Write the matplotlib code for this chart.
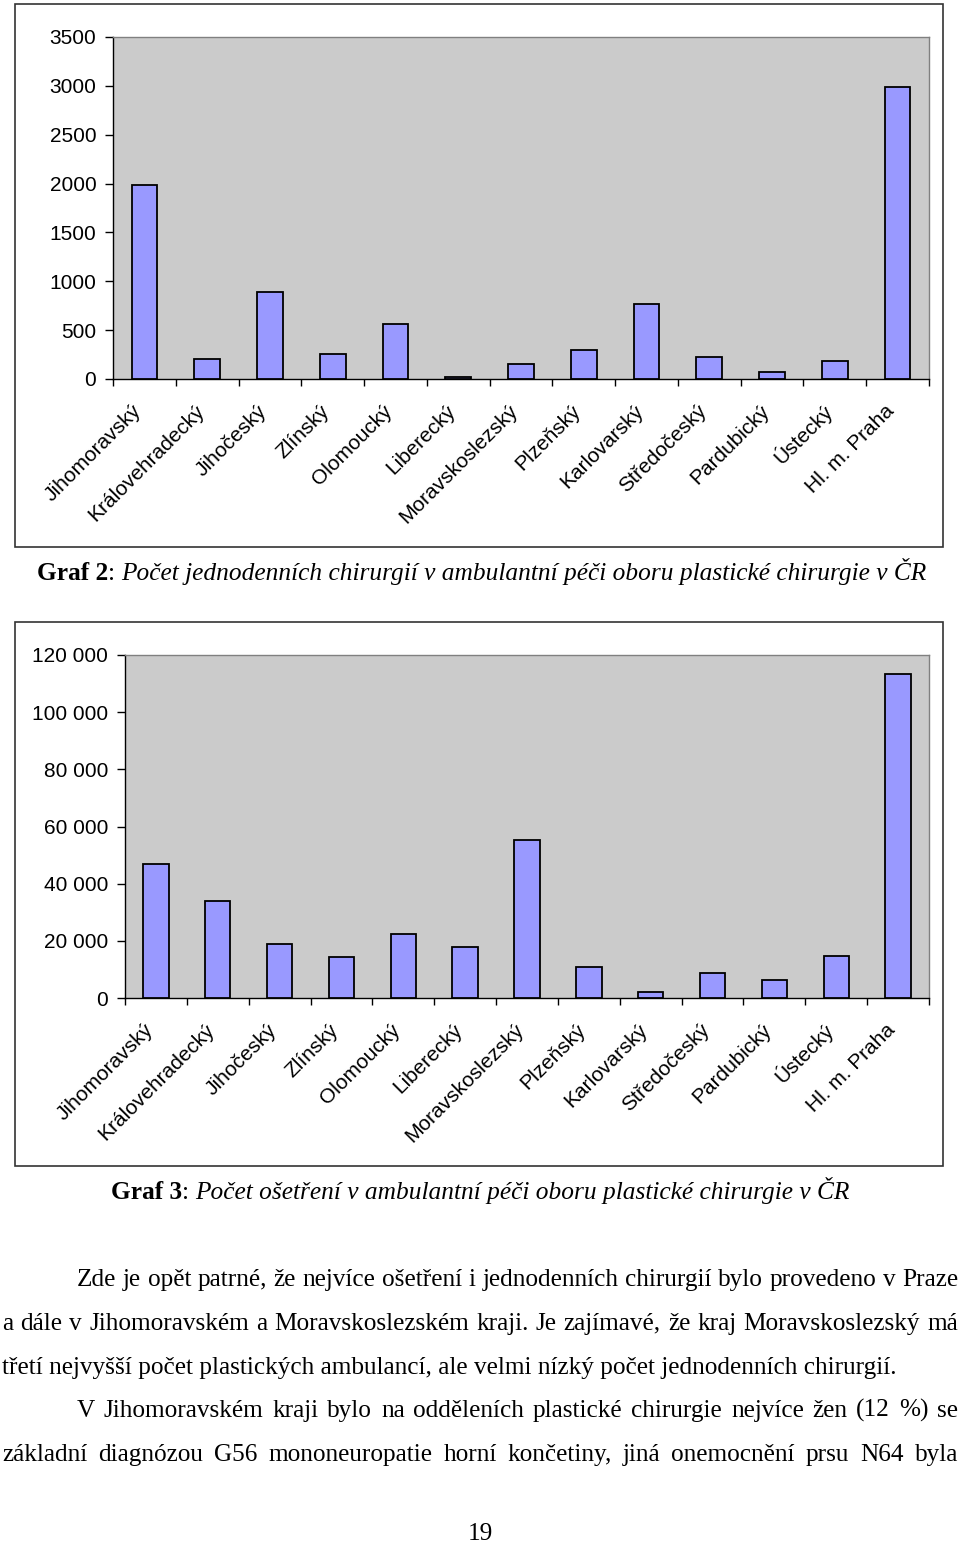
import numpy as np
import matplotlib
matplotlib.use('Agg')
import matplotlib.pyplot as plt
from matplotlib.patches import Rectangle
from matplotlib.transforms import ScaledTranslation

# ---------------- data ----------------
regions = ["Jihomoravský", "Královehradecký", "Jihočeský", "Zlínský", "Olomoucký",
           "Liberecký", "Moravskoslezský", "Plzeňský", "Karlovarský", "Středočeský",
           "Pardubický", "Ústecký", "Hl. m. Praha"]
day_surgeries = [1990, 205, 890, 255, 560, 20, 150, 295, 765, 225, 72, 185, 2985]
treatments = [47000, 34000, 19000, 14400, 22400, 17900, 55300, 11000, 2200, 8900, 6200, 14700, 113500]
y1_ticks = [0, 500, 1000, 1500, 2000, 2500, 3000, 3500]
y2_ticks = [0, 20000, 40000, 60000, 80000, 100000, 120000]

caption2 = ("Graf 2", ": ", "Počet jednodenních chirurgií v ambulantní péči oboru plastické chirurgie v ČR")
caption3 = ("Graf 3", ": ", "Počet ošetření v ambulantní péči oboru plastické chirurgie v ČR")
body_lines = [
    "Zde je opět patrné, že nejvíce ošetření i jednodenních chirurgií bylo provedeno v Praze",
    "a dále v Jihomoravském a Moravskoslezském kraji. Je zajímavé, že kraj Moravskoslezský má",
    "třetí nejvyšší počet plastických ambulancí, ale velmi nízký počet jednodenních chirurgií.",
    "V Jihomoravském kraji bylo na odděleních plastické chirurgie nejvíce žen (12 %) se",
    "základní diagnózou G56 mononeuropatie horní končetiny, jiná onemocnění prsu N64 byla",
]
page_number = "19"

# ---------------- layout ----------------
W, H = 960, 1543
fig = plt.figure(figsize=(W / 100, H / 100), dpi=100)
fig.patch.set_facecolor('white')
renderer = fig.canvas.get_renderer()

SANS = 'Liberation Sans'
SERIF = 'Liberation Serif'


def fx(x):
    return x / W


def fy(y):
    return 1 - y / H


def twidth(s, **kw):
    t = fig.text(0, 0, s, **kw)
    w = t.get_window_extent(renderer).width
    t.remove()
    return w


def frame(x0, y0, x1, y1):
    fig.add_artist(Rectangle((fx(x0), fy(y1)), (x1 - x0) / W, (y1 - y0) / H,
                             transform=fig.transFigure, fill=False,
                             edgecolor='#333333', linewidth=1.2))


def fmt_space(v):
    return f"{v:,}".replace(",", " ")


def chart(box, values, yticks, fmt):
    l, t, r, b = box
    ax = fig.add_axes([fx(l), fy(b), (r - l) / W, (b - t) / H])
    x = np.arange(len(regions))
    ax.bar(x, values, width=0.41, color='#9999FF', edgecolor='black', linewidth=1.3, zorder=3)
    ax.set_facecolor('#CBCBCB')
    ax.set_xlim(-0.5, len(regions) - 0.5)
    ax.set_ylim(yticks[0], yticks[-1])
    ax.set_yticks(yticks)
    ax.set_yticklabels([fmt(v) for v in yticks], fontsize=15, family=SANS)
    ax.set_xticks(x)
    ax.set_xticklabels(regions, rotation=45, ha='right', va='center',
                       rotation_mode='anchor', fontsize=15, family=SANS)
    ax.set_xticks(np.arange(-0.5, len(regions)), minor=True)
    ax.tick_params(axis='x', which='major', length=0, pad=21)
    ax.tick_params(axis='x', which='minor', length=5, direction='out', width=1, color='black')
    ax.tick_params(axis='y', length=6, direction='out', width=1, pad=6, color='black')
    off = ScaledTranslation(-0.06, 0, fig.dpi_scale_trans)
    for lab in ax.get_xticklabels():
        lab.set_transform(lab.get_transform() + off)
    for s in ['top', 'right']:
        ax.spines[s].set_color('#808080')
        ax.spines[s].set_linewidth(1.0)
    for s in ['left', 'bottom']:
        ax.spines[s].set_color('black')
        ax.spines[s].set_linewidth(1.0)
    return ax


def caption(parts, x0, x1, baseline):
    styles = [dict(family=SERIF, weight='bold'),
              dict(family=SERIF),
              dict(family=SERIF, style='italic')]
    size = 17.0
    for _ in range(3):
        total = sum(twidth(p, fontsize=size, **st) for p, st in zip(parts, styles))
        size *= (x1 - x0) / total
    x = x0
    for p, st in zip(parts, styles):
        fig.text(fx(x), fy(baseline), p, fontsize=size, va='baseline', ha='left', **st)
        x += twidth(p, fontsize=size, **st)


# chart 1
frame(15, 4, 943, 547)
chart((113, 37, 929, 379), day_surgeries, y1_ticks, lambda v: str(v))
caption(caption2, 37, 925, 580)

# chart 2
frame(15, 622, 943, 1166)
chart((125, 655, 929, 998), treatments, y2_ticks, fmt_space)
caption(caption3, 111, 850, 1199)

# body text (justified)
size = 15.0
for _ in range(3):
    size *= (897 - 2) / twidth(body_lines[2], fontsize=size, family=SERIF)

line_specs = [(77, 958, 1286, True), (2, 958, 1330, True), (2, 897, 1374, False),
              (77, 958, 1417, True), (2, 958, 1461, True)]
for text, (x0, x1, base, justify) in zip(body_lines, line_specs):
    if not justify:
        fig.text(fx(x0), fy(base), text, fontsize=size, family=SERIF, va='baseline', ha='left')
        continue
    words = text.split(' ')
    widths = [twidth(w_, fontsize=size, family=SERIF) for w_ in words]
    gap = ((x1 - x0) - sum(widths)) / (len(words) - 1)
    x = x0
    for w_, wd in zip(words, widths):
        fig.text(fx(x), fy(base), w_, fontsize=size, family=SERIF, va='baseline', ha='left')
        x += wd + gap

fig.text(fx(480), fy(1540), page_number, fontsize=size, family=SERIF, va='baseline', ha='center')

fig.savefig('out.png', dpi=100, facecolor='white')
